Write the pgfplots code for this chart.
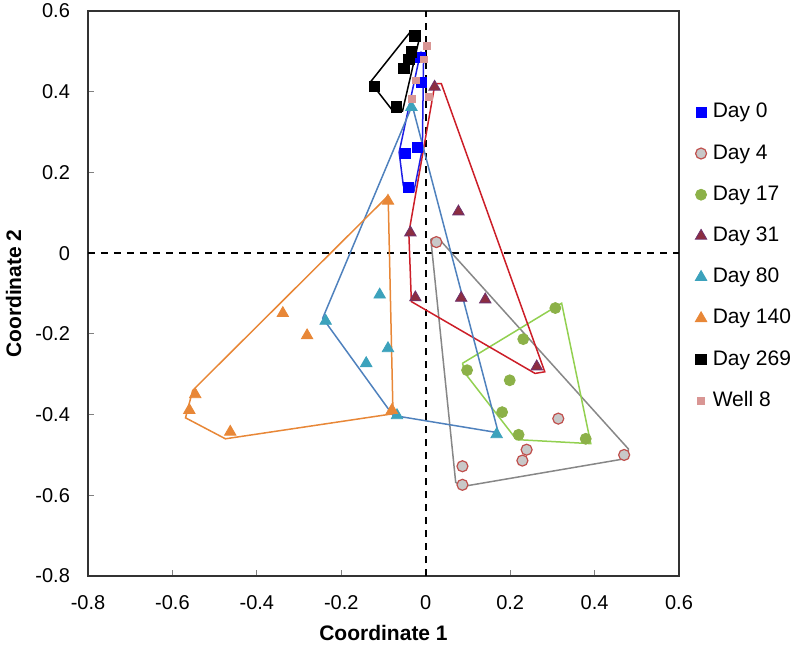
\documentclass[border=0pt]{standalone}
\usepackage{fontspec}
\setmainfont{Liberation Sans}
\usepackage{pgfplots}
\pgfplotsset{compat=1.18}
\definecolor{dayzero}{RGB}{0,0,255}
\definecolor{dayzerohull}{RGB}{30,30,230}
\definecolor{dayfourfill}{RGB}{200,200,200}
\definecolor{dayfouredge}{RGB}{192,80,77}
\definecolor{dayfourhull}{RGB}{135,135,135}
\definecolor{dayseventeen}{RGB}{140,177,72}
\definecolor{dayseventeenhull}{RGB}{146,208,80}
\definecolor{daythirtyone}{RGB}{140,45,65}
\definecolor{daythirtyoneedge}{RGB}{110,50,110}
\definecolor{daythirtyonehull}{RGB}{204,30,40}
\definecolor{dayeighty}{RGB}{60,162,188}
\definecolor{dayeightyhull}{RGB}{79,129,189}
\definecolor{dayonefourty}{RGB}{232,135,55}
\definecolor{wellcol}{RGB}{217,150,148}
\begin{document}
\begin{tikzpicture}
\begin{axis}[
  scale only axis, width=295.5pt, height=282.5pt,
  xmin=-0.8, xmax=0.6, ymin=-0.8, ymax=0.6,
  xtick={-0.8,-0.6,-0.4,-0.2,0,0.2,0.4,0.6},
  xticklabels={-0.8,-0.6,-0.4,-0.2,0,0.2,0.4,0.6},
  ytick={-0.8,-0.6,-0.4,-0.2,0,0.2,0.4,0.6},
  yticklabels={-0.8,-0.6,-0.4,-0.2,0,0.2,0.4,0.6},
  tick align=inside, xtick pos=left, ytick pos=left,
  major tick length=3pt,
  tick style={gray, line width=0.6pt},
  axis line style={black!80, line width=1.2pt},
  ticklabel style={font=\fontsize{10}{12}\selectfont},
  xticklabel style={yshift=-6pt},
  yticklabel style={xshift=-5.5pt},
  xlabel={Coordinate 1}, ylabel={Coordinate 2},
  label style={font=\fontsize{10.5}{12}\selectfont\bfseries},
  xlabel style={at={(axis description cs:0.5,-0.1)}, anchor=center},
  ylabel style={at={(axis description cs:-0.126,0.5)}, anchor=center},
  legend style={at={(axis description cs:1.027,0.84)}, anchor=north west,
    draw=none, fill=none, inner sep=0pt, row sep=10.1pt, column sep=3pt,
    font=\fontsize{10.5}{12}\selectfont,
    nodes={inner sep=0pt, text height=8pt, text depth=2.5pt}},
  legend cell align=left,
  legend image code/.code={\draw[#1] plot coordinates {(0pt,0pt)};},
]
% zero lines
\addplot[black, line width=0.8pt, dash pattern=on 3.5pt off 3pt, forget plot] coordinates {(0,-0.8) (0,0.6)};
\addplot[black, line width=0.8pt, dash pattern=on 3.5pt off 3pt, forget plot] coordinates {(-0.8,0) (0.6,0)};

% points
\addplot[only marks, mark=square*, mark size=2.5pt, mark options={fill=dayzero, draw=dayzero}]
  coordinates {(-0.012,0.486) (-0.0095,0.424) (-0.020,0.262) (-0.047,0.246) (-0.040,0.164)};
\addlegendentry{Day 0}
\addplot[only marks, mark=*, mark size=2.75pt, mark options={fill=dayfourfill, draw=dayfouredge, line width=0.6pt}]
  coordinates {(0.0253,0.0274) (0.314,-0.410) (0.239,-0.487) (0.229,-0.514) (0.087,-0.528) (0.087,-0.574) (0.470,-0.500)};
\addlegendentry{Day 4}
\addplot[only marks, mark=*, mark size=2.75pt, mark options={fill=dayseventeen, draw=dayseventeen}]
  coordinates {(0.307,-0.136) (0.231,-0.213) (0.098,-0.290) (0.199,-0.315) (0.181,-0.394) (0.220,-0.450) (0.379,-0.460)};
\addlegendentry{Day 17}
\addplot[only marks, mark=triangle*, mark size=3.3pt, mark options={fill=daythirtyone, draw=daythirtyoneedge, line width=0.4pt}]
  coordinates {(0.021,0.412) (0.0775,0.103) (-0.0364,0.051) (-0.0245,-0.110) (0.084,-0.111) (0.141,-0.115) (0.263,-0.281)};
\addlegendentry{Day 31}
\addplot[only marks, mark=triangle*, mark size=3.3pt, mark options={fill=dayeighty, draw=dayeighty}]
  coordinates {(-0.034,0.362) (-0.109,-0.103) (-0.237,-0.168) (-0.0894,-0.236) (-0.141,-0.273) (-0.068,-0.402) (0.168,-0.449)};
\addlegendentry{Day 80}
\addplot[only marks, mark=triangle*, mark size=3.3pt, mark options={fill=dayonefourty, draw=dayonefourty}]
  coordinates {(-0.0894,0.1295) (-0.3385,-0.149) (-0.281,-0.204) (-0.546,-0.350) (-0.560,-0.389) (-0.463,-0.443) (-0.080,-0.389)};
\addlegendentry{Day 140}
\addplot[only marks, mark=square*, mark size=2.6pt, mark options={fill=black, draw=black}]
  coordinates {(-0.026,0.538) (-0.034,0.499) (-0.04,0.48) (-0.0515,0.4575) (-0.121,0.413) (-0.069,0.362)};
\addlegendentry{Day 269}
\addplot[only marks, mark=square*, mark size=1.7pt, mark options={fill=wellcol, draw=wellcol}]
  coordinates {(0.002,0.513) (-0.004,0.480) (-0.024,0.428) (-0.032,0.383) (0.008,0.387)};
\addlegendentry{Well 8}

% hulls
\addplot[dayzerohull, line width=0.75pt, forget plot] coordinates {(-0.012,0.499) (-0.063,0.250) (-0.053,0.167) (-0.028,0.153) (-0.008,0.258) (-0.005,0.49) (-0.012,0.499)};
\addplot[dayfourhull, line width=0.75pt, forget plot] coordinates {(0.012,0.035) (0.071,-0.568) (0.0885,-0.578) (0.480,-0.508) (0.480,-0.485) (0.029,0.038) (0.012,0.035)};
\addplot[dayseventeenhull, line width=0.75pt, forget plot] coordinates {(0.087,-0.273) (0.322,-0.124) (0.391,-0.472) (0.215,-0.462) (0.095,-0.30) (0.087,-0.273)};
\addplot[daythirtyonehull, line width=0.75pt, forget plot] coordinates {(0.022,0.42) (-0.04,0.05) (-0.034,-0.12) (0.259,-0.298) (0.282,-0.294) (0.037,0.42) (0.022,0.42)};
\addplot[dayeightyhull, line width=0.75pt, forget plot] coordinates {(-0.032,0.366) (-0.244,-0.161) (-0.0775,-0.402) (0.172,-0.445) (-0.032,0.366)};
\addplot[dayonefourty, line width=0.75pt, forget plot] coordinates {(-0.089,0.142) (-0.552,-0.34) (-0.569,-0.408) (-0.4745,-0.46) (-0.0775,-0.398) (-0.089,0.142)};
\addplot[black, line width=0.75pt, forget plot] coordinates {(-0.036,0.549) (-0.131,0.424) (-0.079,0.354) (-0.055,0.352) (-0.016,0.528) (-0.036,0.549)};
\end{axis}
\pgfresetboundingbox
\path[use as bounding box] (current axis.south west) ++(-44pt,-34.5pt) rectangle ++(398.5pt,322.5pt);
\end{tikzpicture}
\end{document}
